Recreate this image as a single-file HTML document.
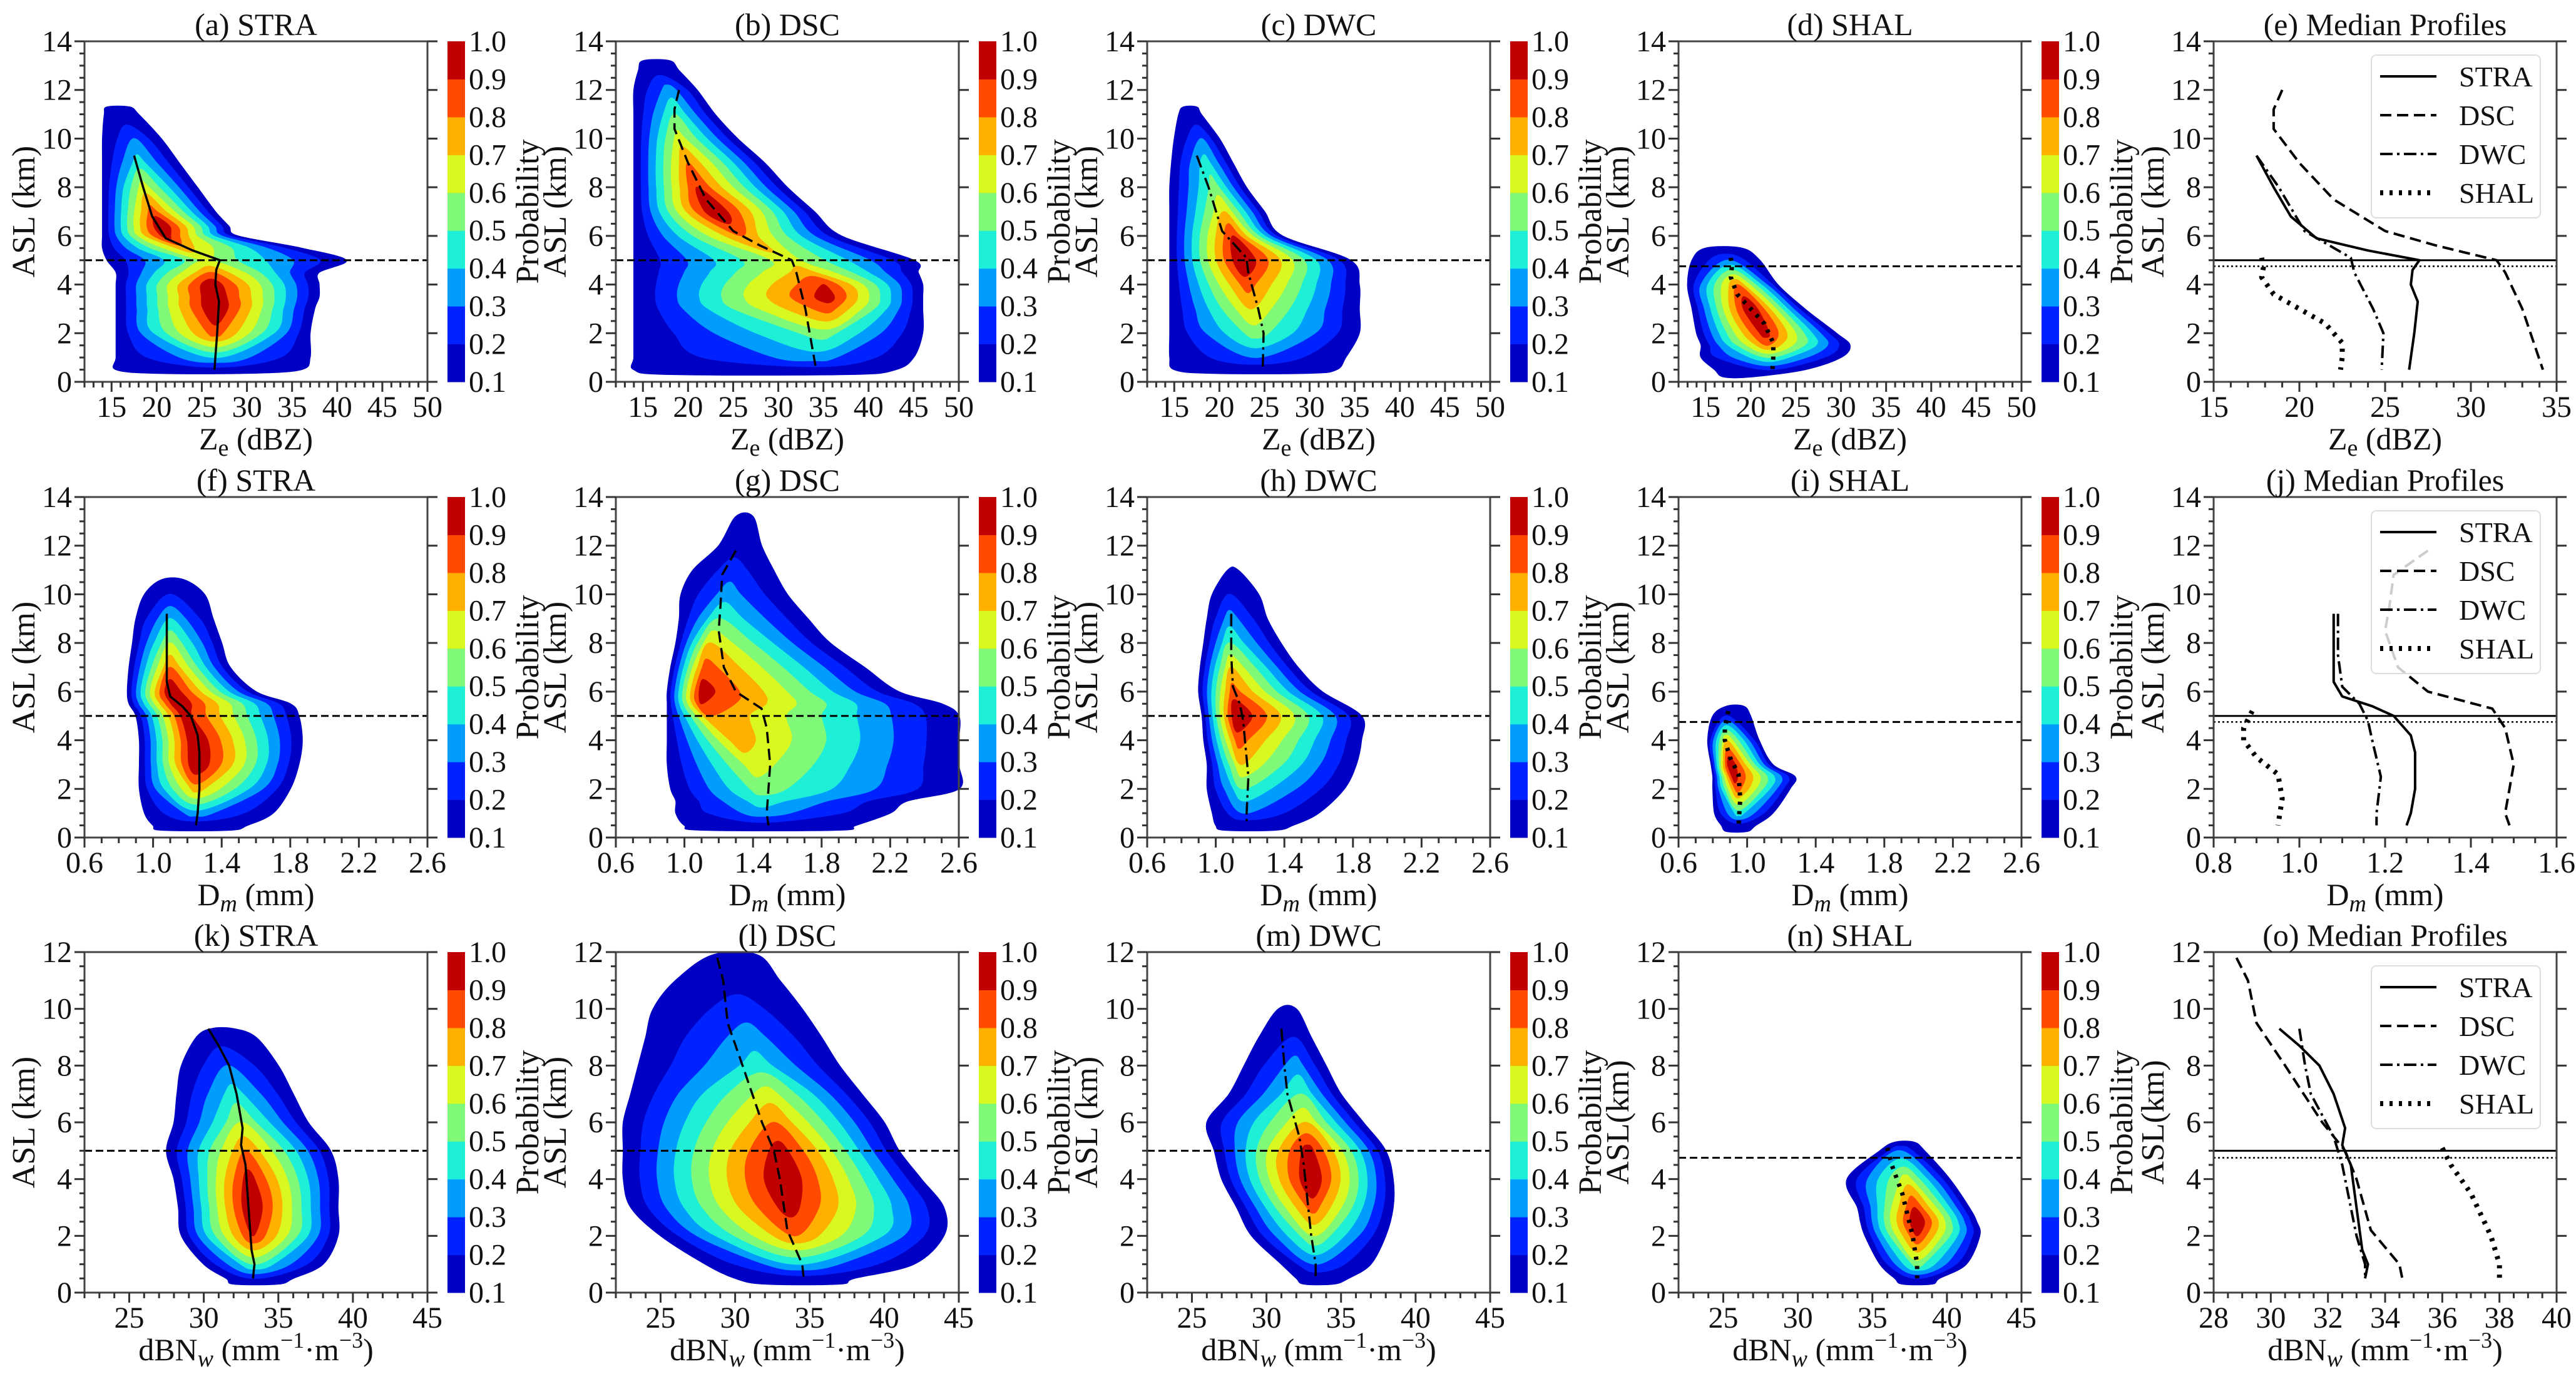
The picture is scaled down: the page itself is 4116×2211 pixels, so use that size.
<!DOCTYPE html>
<html><head><meta charset="utf-8">
<style>
html,body{margin:0;padding:0;background:#fff}
svg{display:block}
text{font-family:"Liberation Serif","Times New Roman","DejaVu Serif",serif;fill:#111}
</style></head>
<body>
<svg id="fig" xmlns="http://www.w3.org/2000/svg" width="4116" height="2211" viewBox="0 0 4116 2211"></svg>
<script>
// ---------- density rows: [height km, left edge(0.1), right edge(0.1), peak x, peak probability]
const densA=[[0.35,20,30,26.5,0.1],[0.5,15.5,36,26.5,0.15],[1,15.5,37,26.5,0.4],[2,15.5,37,26.5,0.85],[3,15.5,37.5,26.5,1],[3.5,15.5,38,26.3,1],[4,15.5,38,26,0.98],[4.5,15.5,38,26,0.8],[5,14.5,41,25.5,0.6],[5.5,14,36,23,0.75],[6,14,29,21,0.95],[6.4,14,28,20.5,1],[7,14,26.5,19.5,0.85],[8,14,24.5,18.5,0.65],[9,14,22.5,18,0.45],[10,14,20.5,17.5,0.3],[11,14.2,18,16,0.12],[11.3,14.5,17,15.5,0.1]];
const densB=[[0.3,18,38,34,0.1],[0.5,14,43,34,0.15],[1,14,45,34,0.35],[2,14,46,35,0.55],[3,14,46,35.5,0.85],[3.5,14,46,35.5,0.95],[4,14,46,35,0.9],[4.5,14,45.5,33,0.75],[5,14,45,31,0.65],[6,14,37,26,0.8],[7,14,34,23,1],[8,14,31,21,0.9],[9,14,28.5,20,0.8],[10,14,25.5,19,0.65],[11,14,23,18.5,0.5],[12,14,21,18,0.35],[12.8,14.5,19,16.5,0.15],[13.2,15,18,16.5,0.1]];
const densC=[[0.35,19,30,24,0.1],[0.5,15,33,24,0.12],[1,14.5,34,24,0.3],[2,14.5,35.5,24,0.55],[3,14.5,35.5,23.5,0.7],[4,14.5,35.5,23,0.85],[5,14.5,34.5,22.5,1],[6,14.5,27,21.5,0.9],[7,14.5,25,20.5,0.7],[8,14.5,23,19.5,0.55],[9,14.7,21.5,18.5,0.45],[10,15,20,18,0.3],[11,15.5,18,17,0.12],[11.3,16,17.5,16.8,0.1]];
const densD=[[0.2,17,20,18,0.1],[0.5,16,26,22,0.2],[1,14.5,30,22,0.5],[1.5,14.5,31,21.8,0.8],[2,14,29.5,21.5,0.95],[3,13.5,26,20,1],[4,13,23,18.5,0.8],[5,13.5,21,17.5,0.3],[5.5,15,19,17,0.1]];
const densF=[[0.3,1.05,1.45,1.24,0.1],[0.5,1.0,1.55,1.24,0.12],[1,0.95,1.7,1.25,0.35],[2,0.92,1.8,1.25,0.75],[3,0.92,1.85,1.25,1],[4,0.92,1.87,1.24,1],[5,0.9,1.85,1.18,0.95],[5.5,0.86,1.8,1.14,1],[6,0.85,1.6,1.1,1],[7,0.86,1.45,1.1,0.8],[8,0.88,1.4,1.1,0.6],[9,0.9,1.35,1.1,0.4],[10,0.95,1.3,1.1,0.2],[10.6,1.05,1.18,1.1,0.1]];
const densG=[[0.3,1.1,1.9,1.45,0.1],[0.5,1.0,2.0,1.45,0.15],[1,0.95,2.2,1.45,0.35],[1.5,0.95,2.3,1.45,0.45],[2,0.92,2.6,1.45,0.55],[3,0.9,2.6,1.4,0.65],[4,0.9,2.6,1.3,0.75],[5,0.9,2.6,1.15,0.8],[5.5,0.9,2.5,1.1,0.9],[6,0.9,2.25,1.1,0.95],[7,0.92,2.05,1.12,0.85],[8,0.95,1.85,1.15,0.7],[9,0.97,1.72,1.2,0.5],[10,0.98,1.6,1.25,0.35],[11,1.05,1.52,1.28,0.25],[12,1.2,1.45,1.3,0.15],[13.2,1.3,1.4,1.35,0.1]];
const densH=[[0.3,1.05,1.35,1.17,0.1],[0.5,1.0,1.45,1.17,0.12],[1,0.98,1.6,1.17,0.3],[2,0.95,1.75,1.16,0.5],[3,0.95,1.82,1.15,0.7],[4,0.93,1.85,1.13,0.85],[5,0.92,1.85,1.12,1],[6,0.9,1.62,1.1,0.85],[7,0.91,1.48,1.09,0.7],[8,0.93,1.38,1.08,0.5],[9,0.95,1.3,1.08,0.35],[10,0.98,1.25,1.08,0.2],[11,1.07,1.13,1.1,0.1]];
const densI=[[0.25,0.88,1.0,0.95,0.1],[0.5,0.85,1.05,0.95,0.15],[1,0.81,1.15,0.95,0.45],[2,0.8,1.25,0.94,0.85],[2.5,0.8,1.28,0.92,0.95],[3,0.79,1.15,0.9,1],[4,0.77,1.07,0.88,0.7],[5,0.8,1.02,0.88,0.2],[5.4,0.88,0.98,0.92,0.1]];
const densK=[[0.3,32,35,33.4,0.1],[0.5,31.5,36,33.4,0.2],[1,30,38,33.4,0.5],[2,28.5,39,33.3,0.9],[3,28.3,39,33.2,1],[4,28,39,33,0.95],[5,27.5,38.5,32.8,0.8],[6,28,37,32.5,0.6],[7,28.2,36,32,0.45],[8,28.5,35,31.6,0.3],[9,29.5,33.5,31,0.15],[9.3,30.5,32,31,0.1]];
const densL=[[0.3,32,37,34.5,0.1],[0.5,30,38,34.5,0.15],[1,28,42,34.2,0.4],[2,25,44,34,0.8],[3,23,44,33.6,0.95],[4,22.5,42.5,33.3,1],[5,22.5,41,33,0.95],[6,22.5,40,32.6,0.8],[7,23,38.5,32.2,0.65],[8,23.5,37,31.6,0.45],[9,24,35.8,31,0.35],[10,24.5,34.5,30.5,0.25],[11,26,33,29.8,0.15],[11.9,28.5,31.5,30,0.1]];
const densM=[[0.3,32.5,34.5,33.3,0.1],[0.5,32,35.5,33.3,0.12],[1,31,37,33.3,0.3],[2,29,38,33.2,0.6],[3,28,38.5,33.1,0.85],[4,27,38.5,33,1],[5,26.5,38,32.8,0.95],[6,26,36.5,32.6,0.7],[7,27.5,35,32.3,0.5],[8,28.5,34,32,0.35],[9,29.5,33,31.8,0.2],[10,30.8,32,31.5,0.1]];
const densN=[[0.3,37,39,38,0.1],[0.5,36.5,39.5,38,0.2],[1,35.5,41.3,38,0.55],[2,34.5,42.2,38,0.9],[2.5,34.2,42,38,1],[3,34,41.5,37.8,0.9],[4,33.3,40.2,37.3,0.65],[5,35.5,38.5,36.8,0.3],[5.3,36.5,37.8,37,0.1]];
// ---------- median profiles [x, height]
const medZeSTRA=[[17.5,9.3],[18.5,8],[19.5,6.8],[21,5.9],[24,5.4],[27,5.0],[26.6,4.6],[26.5,4],[26.9,3.3],[26.7,2],[26.5,1],[26.4,0.5]];
const medZeDSC=[[19,12],[18.5,11.2],[18.5,10.4],[20,9],[22,7.5],[25,6.2],[28,5.6],[31.5,5.0],[32,4.5],[33,3],[34.2,0.5]];
const medZeDWC=[[17.5,9.3],[18.8,8],[20.3,6.2],[23,5.1],[23.2,4.5],[24.3,3],[24.9,2],[24.8,0.5]];
const medZeSHAL=[[17.8,5.1],[17.9,4.7],[17.8,4.3],[18.5,3.6],[20,3],[21.5,2.4],[22,2],[22.5,1.6],[22.5,1],[22.4,0.5]];
const medDmSTRA=[[1.08,9.2],[1.08,8],[1.08,6.4],[1.1,5.8],[1.17,5.4],[1.22,5],[1.26,4.2],[1.27,3.5],[1.27,2],[1.26,1],[1.25,0.5]];
const medDmDSC=[[1.3,11.8],[1.22,10.8],[1.21,9.5],[1.2,8.5],[1.23,7],[1.3,6],[1.45,5.3],[1.48,4.5],[1.5,3],[1.49,2],[1.48,1],[1.49,0.5]];
const medDmDWC=[[1.09,9.2],[1.09,7.5],[1.1,6.2],[1.14,5.5],[1.16,4.8],[1.17,4],[1.19,2.5],[1.18,1],[1.18,0.5]];
const medDmSHAL=[[0.89,5.2],[0.87,4.5],[0.87,4],[0.9,3.3],[0.95,2.6],[0.96,1.6],[0.95,0.5]];
const medNwSTRA=[[30.3,9.3],[31,8.7],[31.7,8],[32.2,7],[32.6,5.8],[32.5,5.2],[32.8,4.5],[33,3],[33.2,1.5],[33.4,1],[33.3,0.5]];
const medNwDSC=[[28.8,11.8],[29.2,11],[29.5,9.5],[30.5,8],[31.8,6],[32.6,5],[33,4],[33.5,2.2],[34.5,1],[34.6,0.5]];
const medNwDWC=[[31,9.3],[31.2,8],[31.4,7],[32.2,5.5],[32.5,4.5],[32.8,3],[33,2],[33.3,1],[33.3,0.5]];
const medNwSHAL=[[36,5.1],[36.3,4.5],[37,3.5],[37.7,2],[38,1],[38,0.5]];
const cbarTicks=["0.1","0.2","0.3","0.4","0.5","0.6","0.7","0.8","0.9","1.0"];
const levelColors=["#0000c4","#0022ff","#009dff","#1ef0d8","#80f878","#d8f820","#ffb000","#ff4a00","#c00000"];

const NS="http://www.w3.org/2000/svg";
const fig=document.getElementById('fig');
function mk(tag,attrs,parent){const e=document.createElementNS(NS,tag);for(const k in attrs)e.setAttribute(k,attrs[k]);(parent||fig).appendChild(e);return e;}
const colX=[135,984,1833,2682,3537], rowY=[66,794,1521], W=548, H=544;
const styles={STRA:{da:"",w:4},DSC:{da:"18,9",w:4},DWC:{da:"20,7,4,7",w:4},SHAL:{da:"5,10",w:8}};

function smoothPath(pts){
  const n=pts.length;let d="M"+pts[0][0].toFixed(1)+","+pts[0][1].toFixed(1);
  for(let i=0;i<n;i++){const p0=pts[(i-1+n)%n],p1=pts[i],p2=pts[(i+1)%n],p3=pts[(i+2)%n];
    const c1=[p1[0]+(p2[0]-p0[0])/6,p1[1]+(p2[1]-p0[1])/6],c2=[p2[0]-(p3[0]-p1[0])/6,p2[1]-(p3[1]-p1[1])/6];
    d+="C"+c1[0].toFixed(1)+","+c1[1].toFixed(1)+" "+c2[0].toFixed(1)+","+c2[1].toFixed(1)+" "+p2[0].toFixed(1)+","+p2[1].toFixed(1);}
  return d+"Z";
}

function panel(o){
  const L=colX[o.col],T=rowY[o.row];
  const g=mk('g',{});
  
  
  const sx=v=>L+(v-o.xmin)/(o.xmax-o.xmin)*W, sy=v=>T+H-(v/o.ymax)*H;
  if(o.dens){
    const cg=mk('g',{},g);
    
    
    for(let k=0;k<9;k++){
      const v=0.1+0.1*k; let runs=[],cur=null;
      o.dens.forEach((r,i)=>{
        const ok = k===0 ? true : r[4]>v+1e-9;
        if(ok){if(!cur){cur=[];runs.push(cur);} cur.push(i);} else cur=null;
      });
      runs.forEach(run=>{
        const left=[],right=[];
        const fr=r=>k===0?1:Math.pow((r[4]-v)/(r[4]-0.1),0.95);
        const i0=run[0],i1=run[run.length-1];
        const cross=(a,b)=>{const ra=o.dens[a],rb=o.dens[b];const t=(ra[4]-v)/(ra[4]-rb[4]);return [sx(ra[3]+(rb[3]-ra[3])*t),sy(ra[0]+(rb[0]-ra[0])*t)];};
        const bot = (k>0&&i0>0)?cross(i0,i0-1):null;
        const top = (k>0&&i1<o.dens.length-1)?cross(i1,i1+1):null;
        run.forEach(i=>{const r=o.dens[i],f=fr(r);left.push([sx(r[3]-(r[3]-r[1])*f),sy(r[0])]);right.push([sx(r[3]+(r[2]-r[3])*f),sy(r[0])]);});
        let pts=[];
        if(bot)pts.push(bot);
        pts=pts.concat(right);
        if(top)pts.push(top);
        pts=pts.concat(left.reverse());
        if(pts.length<3)return;
        const p=mk('path',{d:smoothPath(pts),fill:levelColors[k],stroke:levelColors[k],'stroke-width':1.5},cg);
        
        
      });
    }
  }
  if(o.fz){o.fz.forEach(f=>{
    const ln=mk('line',{x1:L,x2:L+W,y1:sy(f.h),y2:sy(f.h),stroke:'#000','stroke-width':f.w||3,'stroke-dasharray':f.da||''},g);
    
    
  });}
  o.meds.forEach(m=>{
    const st=styles[m.type];
    const d=m.data.map((p,i)=>(i?"L":"M")+sx(p[0]).toFixed(1)+","+sy(p[1]).toFixed(1)).join("");
    const w=o.dens?(m.type==='SHAL'?7:3.5):st.w;
    const pl=mk('path',{d:d,fill:'none',stroke:'#000','stroke-width':w,'stroke-dasharray':st.da,'stroke-linejoin':'round'},g);
    
    
  });
  const fr=mk('rect',{x:L,y:T,width:W,height:H,fill:'none',stroke:'#444','stroke-width':3},g);
  
  
  for(let v=0;v<=o.ymax+1e-9;v+=0.5){
    const major=Math.abs(v/2-Math.round(v/2))<1e-6; const y=sy(v);
    mk('line',{x1:L,x2:L-(major?16:8),y1:y,y2:y,stroke:'#333','stroke-width':3},g);
    if(major){mk('line',{x1:L+W,x2:L+W+16,y1:y,y2:y,stroke:'#333','stroke-width':3},g);
      const t=mk('text',{x:L-20,y:y+16,'text-anchor':'end','font-size':48},g);t.textContent=Math.round(v);
      
      }
  }
  const nMin=Math.round((o.xmax-o.xmin)/o.xminor);
  for(let i=0;i<=nMin;i++){const v=o.xmin+i*o.xminor;const x=sx(v);
    const major=o.xticks.some(t=>Math.abs(t-v)<1e-6);
    mk('line',{x1:x,x2:x,y1:T+H,y2:T+H+(major?16:9),stroke:'#333','stroke-width':3},g);}
  o.xticks.forEach((v,i)=>{const t=mk('text',{x:sx(v),y:T+H+56,'text-anchor':'middle','font-size':48},g);t.textContent=o.xtickLabels[i];
    
    });
  const ti=mk('text',{x:L+W/2,y:T-10,'text-anchor':'middle','font-size':50},g);ti.textContent=o.title;
  
  
  const xl=mk('text',{x:L+W/2,y:T+H+108,'text-anchor':'middle','font-size':50},g);xl.innerHTML=o.xlabel;
  
  
  const yl=mk('text',{x:0,y:0,'text-anchor':'middle','font-size':52,transform:`translate(${L-80},${T+H/2}) rotate(-90)`},g);yl.textContent=o.ylabel;
  
  
  if(o.dens){
    const cx=L+580,cw=28; const cb=mk('g',{},g);
    
    
    levelColors.forEach((c,k)=>{mk('rect',{x:cx,y:T+H-(k+1)*H/9,width:cw,height:H/9+0.5,fill:c},cb);});
    cbarTicks.forEach((s,k)=>{const y=T+H-k*H/9;const t=mk('text',{x:cx+cw+6,y:y+16,'font-size':48},cb);t.textContent=s;
      
      });
    const pt=mk('text',{x:0,y:0,'text-anchor':'middle','font-size':52,transform:`translate(${cx+145},${T+H/2}) rotate(-90)`},cb);pt.textContent='Probability';
    
    
  }
  if(o.legend){
    const lg=mk('g',{},g);
    
    
    mk('rect',{x:L+252,y:T+22,width:270,height:260,rx:8,fill:'#fff','fill-opacity':0.8,stroke:'#ddd','stroke-width':2},lg);
    ['STRA','DSC','DWC','SHAL'].forEach((n,i)=>{const y=T+56+i*62;const st=styles[n];
      mk('line',{x1:L+266,x2:L+356,y1:y,y2:y,stroke:'#000','stroke-width':st.w,'stroke-dasharray':st.da},lg);
      const t=mk('text',{x:L+392,y:y+16,'font-size':46},lg);t.textContent=n;
      
      });
  }
}

const ZeT=[15,20,25,30,35,40,45,50], DmT=[0.6,1.0,1.4,1.8,2.2,2.6], NwT=[25,30,35,40,45];
const ZeX='Z<tspan font-size="38" dy="10">e</tspan><tspan dy="-10"> (dBZ)</tspan>';
const DmX='D<tspan font-size="38" dy="10" font-style="italic">m</tspan><tspan dy="-10"> (mm)</tspan>';
const NwX='dBN<tspan font-size="38" dy="10" font-style="italic">w</tspan><tspan dy="-10"> (mm</tspan><tspan font-size="36" dy="-20">−1</tspan><tspan dy="20">·m</tspan><tspan font-size="36" dy="-20">−3</tspan><tspan dy="20">)</tspan>';
const fz5=[{h:5,da:"12,6"}], fzS=[{h:4.75,da:"12,6"}], fzMed=[{h:5,w:3},{h:4.75,w:2.5,da:"3,4"}];
const lbl=v=>v.map(x=>x.toFixed(1));

panel({name:'panel-a',col:0,row:0,xmin:12,xmax:50,xminor:1,xticks:ZeT,xtickLabels:ZeT.map(String),ymax:14,title:'(a) STRA',xlabel:ZeX,ylabel:'ASL (km)',dens:densA,fz:fz5,meds:[{type:'STRA',data:medZeSTRA}]});
panel({name:'panel-b',col:1,row:0,xmin:12,xmax:50,xminor:1,xticks:ZeT,xtickLabels:ZeT.map(String),ymax:14,title:'(b) DSC',xlabel:ZeX,ylabel:'ASL (km)',dens:densB,fz:fz5,meds:[{type:'DSC',data:medZeDSC}]});
panel({name:'panel-c',col:2,row:0,xmin:12,xmax:50,xminor:1,xticks:ZeT,xtickLabels:ZeT.map(String),ymax:14,title:'(c) DWC',xlabel:ZeX,ylabel:'ASL (km)',dens:densC,fz:fz5,meds:[{type:'DWC',data:medZeDWC}]});
panel({name:'panel-d',col:3,row:0,xmin:12,xmax:50,xminor:1,xticks:ZeT,xtickLabels:ZeT.map(String),ymax:14,title:'(d) SHAL',xlabel:ZeX,ylabel:'ASL (km)',dens:densD,fz:fzS,meds:[{type:'SHAL',data:medZeSHAL}]});
panel({name:'panel-e',col:4,row:0,xmin:15,xmax:35,xminor:1,xticks:[15,20,25,30,35],xtickLabels:['15','20','25','30','35'],ymax:14,title:'(e) Median Profiles',xlabel:ZeX,ylabel:'ASL (km)',fz:fzMed,legend:true,meds:[{type:'STRA',data:medZeSTRA},{type:'DSC',data:medZeDSC},{type:'DWC',data:medZeDWC},{type:'SHAL',data:medZeSHAL}]});

panel({name:'panel-f',col:0,row:1,xmin:0.6,xmax:2.6,xminor:0.1,xticks:DmT,xtickLabels:lbl(DmT),ymax:14,title:'(f) STRA',xlabel:DmX,ylabel:'ASL (km)',dens:densF,fz:fz5,meds:[{type:'STRA',data:medDmSTRA}]});
panel({name:'panel-g',col:1,row:1,xmin:0.6,xmax:2.6,xminor:0.1,xticks:DmT,xtickLabels:lbl(DmT),ymax:14,title:'(g) DSC',xlabel:DmX,ylabel:'ASL (km)',dens:densG,fz:fz5,meds:[{type:'DSC',data:medDmDSC}]});
panel({name:'panel-h',col:2,row:1,xmin:0.6,xmax:2.6,xminor:0.1,xticks:DmT,xtickLabels:lbl(DmT),ymax:14,title:'(h) DWC',xlabel:DmX,ylabel:'ASL (km)',dens:densH,fz:fz5,meds:[{type:'DWC',data:medDmDWC}]});
panel({name:'panel-i',col:3,row:1,xmin:0.6,xmax:2.6,xminor:0.1,xticks:DmT,xtickLabels:lbl(DmT),ymax:14,title:'(i) SHAL',xlabel:DmX,ylabel:'ASL (km)',dens:densI,fz:fzS,meds:[{type:'SHAL',data:medDmSHAL}]});
panel({name:'panel-j',col:4,row:1,xmin:0.8,xmax:1.6,xminor:0.05,xticks:[0.8,1.0,1.2,1.4,1.6],xtickLabels:['0.8','1.0','1.2','1.4','1.6'],ymax:14,title:'(j) Median Profiles',xlabel:DmX,ylabel:'ASL (km)',fz:fzMed,legend:true,meds:[{type:'STRA',data:medDmSTRA},{type:'DSC',data:medDmDSC},{type:'DWC',data:medDmDWC},{type:'SHAL',data:medDmSHAL}]});

panel({name:'panel-k',col:0,row:2,xmin:22,xmax:45,xminor:1,xticks:NwT,xtickLabels:NwT.map(String),ymax:12,title:'(k) STRA',xlabel:NwX,ylabel:'ASL (km)',dens:densK,fz:fz5,meds:[{type:'STRA',data:medNwSTRA}]});
panel({name:'panel-l',col:1,row:2,xmin:22,xmax:45,xminor:1,xticks:NwT,xtickLabels:NwT.map(String),ymax:12,title:'(l) DSC',xlabel:NwX,ylabel:'ASL (km)',dens:densL,fz:fz5,meds:[{type:'DSC',data:medNwDSC}]});
panel({name:'panel-m',col:2,row:2,xmin:22,xmax:45,xminor:1,xticks:NwT,xtickLabels:NwT.map(String),ymax:12,title:'(m) DWC',xlabel:NwX,ylabel:'ASL (km)',dens:densM,fz:fz5,meds:[{type:'DWC',data:medNwDWC}]});
panel({name:'panel-n',col:3,row:2,xmin:22,xmax:45,xminor:1,xticks:NwT,xtickLabels:NwT.map(String),ymax:12,title:'(n) SHAL',xlabel:NwX,ylabel:'ASL(km)',dens:densN,fz:fzS,meds:[{type:'SHAL',data:medNwSHAL}]});
panel({name:'panel-o',col:4,row:2,xmin:28,xmax:40,xminor:0.5,xticks:[28,30,32,34,36,38,40],xtickLabels:['28','30','32','34','36','38','40'],ymax:12,title:'(o) Median Profiles',xlabel:NwX,ylabel:'ASL(km)',fz:fzMed,legend:true,meds:[{type:'STRA',data:medNwSTRA},{type:'DSC',data:medNwDSC},{type:'DWC',data:medNwDWC},{type:'SHAL',data:medNwSHAL}]});
</script>
</body></html>
